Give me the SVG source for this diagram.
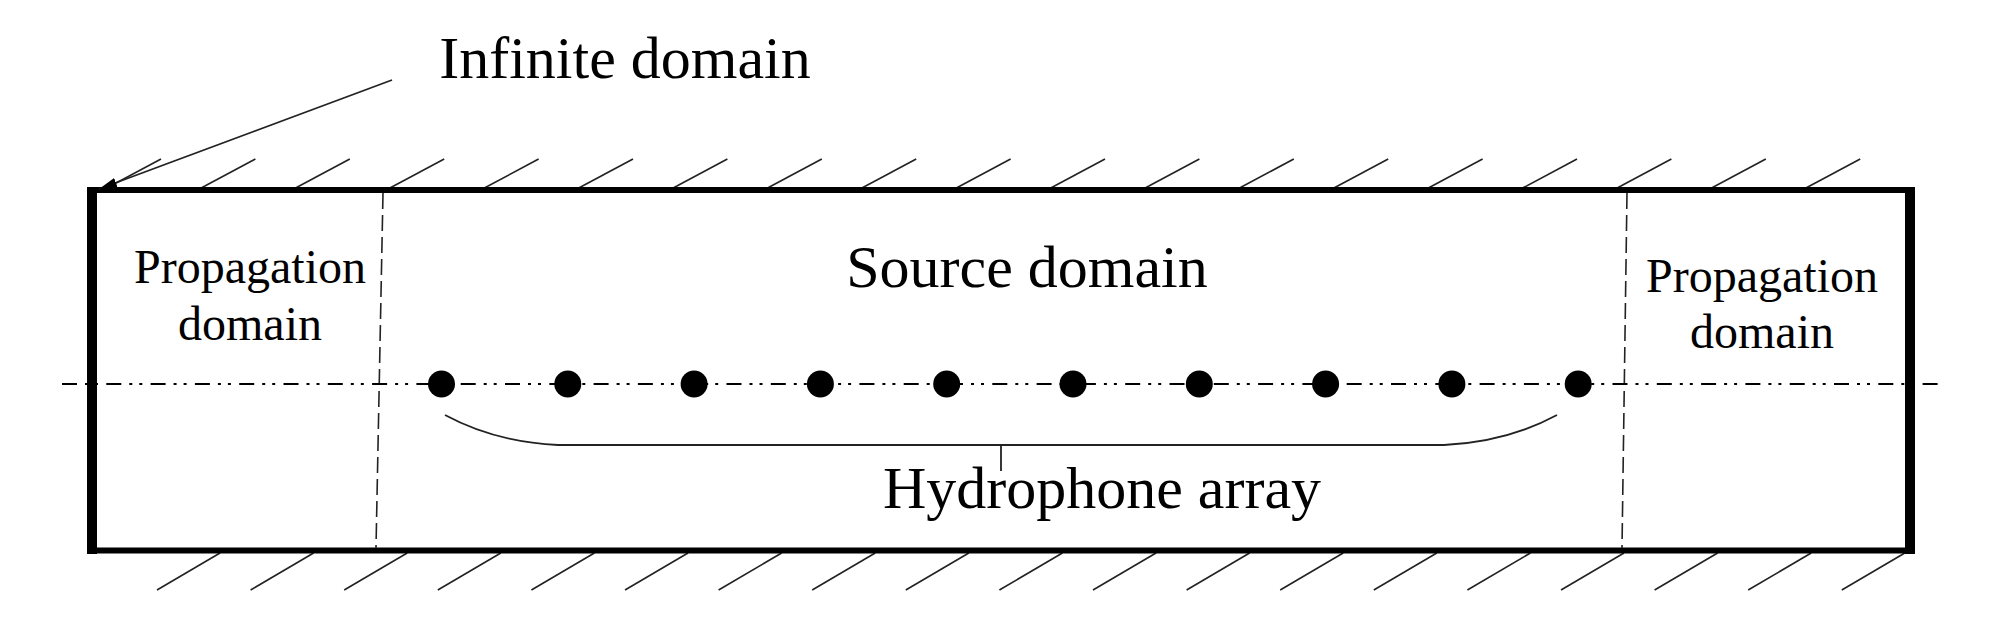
<svg xmlns="http://www.w3.org/2000/svg" width="2004" height="643" viewBox="0 0 2004 643">
  <defs>
    <style>
      .lbl { font-family: "Liberation Serif", "Times New Roman", serif; fill: #000; text-anchor: middle; }
      .big { font-size: 60px; }
      .mid { font-size: 48px; }
      .hatch { stroke: #222; stroke-width: 1.6; fill: none; }
      .border-h { stroke: #000; stroke-width: 6; stroke-linecap: square; }
      .border-v { stroke: #000; stroke-width: 10; stroke-linecap: butt; }
      .divider { stroke: #222; stroke-width: 1.6; stroke-dasharray: 16 6; fill: none; }
      .axis { stroke: #000; stroke-width: 2.2; stroke-dasharray: 15 8 3 7 3 8.3; fill: none; }
      .thin { stroke: #222; stroke-width: 1.8; fill: none; }
      .dot { fill: #000; }
    </style>
    <marker id="arrow" viewBox="0 0 18 10" refX="18" refY="5" markerWidth="18" markerHeight="10" markerUnits="userSpaceOnUse" orient="auto">
      <path d="M0,0 L18,5 L0,10 z" fill="#000"/>
    </marker>
  </defs>

  <!-- Hatching (infinite domain boundary) -->
  <g id="hatch-top" class="hatch">
    <line x1="103" y1="190" x2="161" y2="159"/>
    <line x1="197.4" y1="190" x2="255.4" y2="159"/>
    <line x1="291.8" y1="190" x2="349.8" y2="159"/>
    <line x1="386.2" y1="190" x2="444.2" y2="159"/>
    <line x1="480.6" y1="190" x2="538.6" y2="159"/>
    <line x1="575" y1="190" x2="633" y2="159"/>
    <line x1="669.4" y1="190" x2="727.4" y2="159"/>
    <line x1="763.8" y1="190" x2="821.8" y2="159"/>
    <line x1="858.2" y1="190" x2="916.2" y2="159"/>
    <line x1="952.6" y1="190" x2="1010.6" y2="159"/>
    <line x1="1047" y1="190" x2="1105" y2="159"/>
    <line x1="1141.4" y1="190" x2="1199.4" y2="159"/>
    <line x1="1235.8" y1="190" x2="1293.8" y2="159"/>
    <line x1="1330.2" y1="190" x2="1388.2" y2="159"/>
    <line x1="1424.6" y1="190" x2="1482.6" y2="159"/>
    <line x1="1519" y1="190" x2="1577" y2="159"/>
    <line x1="1613.4" y1="190" x2="1671.4" y2="159"/>
    <line x1="1707.8" y1="190" x2="1765.8" y2="159"/>
    <line x1="1802.2" y1="190" x2="1860.2" y2="159"/>
  </g>
  <g id="hatch-bottom" class="hatch">
    <line x1="157" y1="590" x2="220" y2="553"/>
    <line x1="250.6" y1="590" x2="313.6" y2="553"/>
    <line x1="344.2" y1="590" x2="407.2" y2="553"/>
    <line x1="437.8" y1="590" x2="500.8" y2="553"/>
    <line x1="531.4" y1="590" x2="594.4" y2="553"/>
    <line x1="625" y1="590" x2="688" y2="553"/>
    <line x1="718.6" y1="590" x2="781.6" y2="553"/>
    <line x1="812.2" y1="590" x2="875.2" y2="553"/>
    <line x1="905.8" y1="590" x2="968.8" y2="553"/>
    <line x1="999.4" y1="590" x2="1062.4" y2="553"/>
    <line x1="1093" y1="590" x2="1156" y2="553"/>
    <line x1="1186.6" y1="590" x2="1249.6" y2="553"/>
    <line x1="1280.2" y1="590" x2="1343.2" y2="553"/>
    <line x1="1373.8" y1="590" x2="1436.8" y2="553"/>
    <line x1="1467.4" y1="590" x2="1530.4" y2="553"/>
    <line x1="1561" y1="590" x2="1624" y2="553"/>
    <line x1="1654.6" y1="590" x2="1717.6" y2="553"/>
    <line x1="1748.2" y1="590" x2="1811.2" y2="553"/>
    <line x1="1841.8" y1="590" x2="1904.8" y2="553"/>
  </g>

  <!-- Outer boundary -->
  <g id="boundary">
    <line class="border-h" x1="95" y1="190" x2="1908" y2="190"/>
    <line class="border-h" x1="95" y1="550.5" x2="1908" y2="550.5"/>
    <line class="border-v" x1="92" y1="187" x2="92" y2="554"/>
    <line class="border-v" x1="1910" y1="187" x2="1910" y2="554"/>
  </g>

  <!-- Domain dividers and axis -->
  <g id="dividers">
    <line class="divider" x1="383" y1="193" x2="376" y2="548"/>
    <line class="divider" x1="1627" y1="193" x2="1622" y2="548"/>
  </g>
  <g id="axis">
    <line class="axis" x1="62" y1="384" x2="1940" y2="384"/>
  </g>

  <!-- Hydrophones -->
  <g id="hydrophones" class="dot">
    <circle cx="441.5" cy="384" r="13.5"/>
    <circle cx="567.8" cy="384" r="13.5"/>
    <circle cx="694.1" cy="384" r="13.5"/>
    <circle cx="820.4" cy="384" r="13.5"/>
    <circle cx="946.7" cy="384" r="13.5"/>
    <circle cx="1073" cy="384" r="13.5"/>
    <circle cx="1199.3" cy="384" r="13.5"/>
    <circle cx="1325.6" cy="384" r="13.5"/>
    <circle cx="1451.9" cy="384" r="13.5"/>
    <circle cx="1578.2" cy="384" r="13.5"/>
  </g>

  <!-- Connectors: brace and leader -->
  <g id="connectors">
    <path class="thin" d="M445,415 Q495,442 558,445 L1444,445 Q1507,442 1557,415"/>
    <line class="thin" x1="1001" y1="445" x2="1001" y2="471"/>
    <line class="thin" x1="392" y1="80" x2="99" y2="189" marker-end="url(#arrow)"/>
  </g>

  <!-- Labels -->
  <g id="label-infinite">
    <text class="lbl big" x="625" y="78">Infinite domain</text>
  </g>
  <g id="label-source">
    <text class="lbl big" x="1027" y="287">Source domain</text>
  </g>
  <g id="label-prop-left">
    <text class="lbl mid" x="250" y="283">Propagation</text>
    <text class="lbl mid" x="250" y="340">domain</text>
  </g>
  <g id="label-prop-right">
    <text class="lbl mid" x="1762" y="292">Propagation</text>
    <text class="lbl mid" x="1762" y="348">domain</text>
  </g>
  <g id="label-hydrophone">
    <text class="lbl big" x="1102" y="508">Hydrophone array</text>
  </g>
</svg>
